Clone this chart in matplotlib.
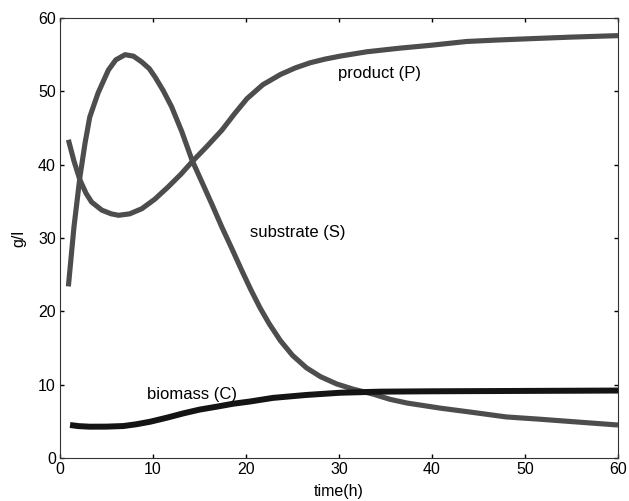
import matplotlib
matplotlib.use("Agg")
import matplotlib.pyplot as plt

plt.rcParams['font.family'] = ['Liberation Sans', 'DejaVu Sans']

# Fermentation time courses (g/l versus hours)
t_peak = [0.9, 1.5, 2.15, 2.7, 3.2, 4.1, 5.2, 6.0, 7.0, 7.9, 8.8, 9.6, 10.2, 11.1, 12.0, 13.1,
          14.2, 15.2, 16.3, 17.4, 18.5, 19.5, 20.5, 21.5, 22.5, 23.7, 25.0, 26.5, 28.0,
          29.75, 31.5, 33.7, 35.5, 37.3, 40.9, 44.5, 48.0, 51.5, 55.2, 60.0]
c_peak = [23.4, 31.5, 38.4, 43.0, 46.5, 49.8, 52.9, 54.3, 55.0, 54.8, 54.0, 53.1, 52.0, 50.1, 47.9, 44.5,
          40.6, 37.8, 34.7, 31.5, 28.5, 25.7, 23.0, 20.5, 18.3, 16.0, 14.0, 12.3, 11.1,
          10.1, 9.4, 8.7, 8.0, 7.5, 6.8, 6.2, 5.6, 5.3, 4.95, 4.5]

t_dip = [0.9, 1.5, 2.15, 2.8, 3.4, 4.5, 5.5, 6.3, 7.5, 8.8, 10.2, 11.65, 13.0, 14.2, 15.8, 17.4,
         18.8, 20.1, 21.8, 23.7, 25.3, 26.9, 28.5, 30.1, 33.0, 36.6, 40.0, 43.7, 47.0, 50.9,
         55.0, 60.0]
c_dip = [43.4, 40.5, 37.9, 36.1, 34.9, 33.8, 33.3, 33.1, 33.3, 34.0, 35.3, 37.0, 38.7, 40.4, 42.5, 44.7,
         47.0, 49.0, 50.9, 52.3, 53.2, 53.9, 54.4, 54.8, 55.4, 55.9, 56.3, 56.8, 57.0, 57.2,
         57.4, 57.6]

t_bio = [1.08, 2.0, 3.2, 5.0, 6.8, 8.2, 9.7, 11.5, 13.3, 15.0, 16.85, 18.6, 20.4, 22.9, 26.5,
         30.1, 34.4, 40.0, 50.0, 60.0]
c_bio = [4.5, 4.35, 4.27, 4.28, 4.36, 4.6, 4.95, 5.5, 6.1, 6.6, 7.0, 7.4, 7.7, 8.2, 8.6,
         8.9, 9.05, 9.1, 9.15, 9.2]

x_ticks = [0, 10, 20, 30, 40, 50, 60]
y_ticks = [0, 10, 20, 30, 40, 50, 60]

fig = plt.figure(figsize=(6.29, 5.01), dpi=100)
ax = fig.add_axes([0.0954, 0.0858, 0.8871, 0.8782])

gray = '#4d4d4d'
ax.plot(t_peak, c_peak, color=gray, lw=3.7, solid_capstyle='butt', solid_joinstyle='round')
ax.plot(t_dip, c_dip, color=gray, lw=3.7, solid_capstyle='butt', solid_joinstyle='round')
ax.plot(t_bio, c_bio, color='#141414', lw=4.3, solid_capstyle='butt', solid_joinstyle='round')

ax.text(29.9, 52.5, 'product (P)', fontsize=12, va='center', ha='left')
ax.text(20.4, 30.8, 'substrate (S)', fontsize=12, va='center', ha='left')
ax.text(9.4, 8.6, 'biomass (C)', fontsize=12, va='center', ha='left')

ax.set_xlim(0, 60)
ax.set_ylim(0, 60)
ax.set_xticks(x_ticks)
ax.set_yticks(y_ticks)
ax.tick_params(direction='in', length=3, width=1, top=True, right=True,
               labelsize=11.5, pad=3)
for s in ax.spines.values():
    s.set_linewidth(0.8)
    s.set_color('#333333')

ax.set_xlabel('time(h)', fontsize=11.5, labelpad=5)
ax.set_ylabel('g/l', fontsize=11.5, labelpad=8)

fig.savefig('out.png', dpi=100)
